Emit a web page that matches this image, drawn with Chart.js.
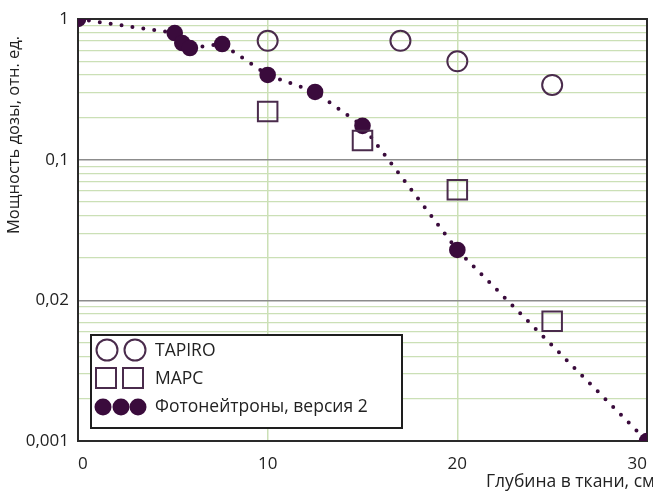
<!DOCTYPE html>
<html>
<head>
<meta charset="utf-8">
<style>
  html, body { margin: 0; padding: 0; background: #fff; }
</style>
<script src="https://cdn.jsdelivr.net/npm/chart.js@4.4.1/dist/chart.umd.min.js"></script>
</head>
<body>
<canvas id="dose-chart" width="653" height="492"></canvas>
<script>
// DATA

const tapiroX = [10, 17, 20, 25];
const tapiroY = [0.70, 0.70, 0.50, 0.34];

const marsX = [10, 15, 20, 25];
const marsY = [0.22, 0.137, 0.061, 0.0071];

const photoX = [0, 5.1, 5.5, 5.9, 7.6, 10, 12.5, 15, 20, 30];
const photoY = [1, 0.795, 0.675, 0.622, 0.664, 0.40, 0.303, 0.174, 0.0228, 0.001];

const xTicks = [0, 10, 20, 30];
const yTickValues = [0.001, 0.01, 0.1, 1];
const yTickLabels = ['0,001', '0,02', '0,1', '1'];

const seriesNames = ['TAPIRO', 'МАРС', 'Фотонейтроны, версия 2'];
const xTitle = 'Глубина в ткани, см';
const yTitle = 'Мощность дозы, отн. ед.';

const ink = '#3a0b3c';
const openInk = '#4a2b4c';
const majorGrid = '#8c8c8c';
const minorGrid = '#cbe0b6';
const textColor = '#222';
const font = '"Open Sans", sans-serif';

const toPoints = (xs, ys) => xs.map((x, i) => ({ x: x, y: ys[i] }));

const isMajor = (v) => yTickValues.some(t => Math.abs(t - v) / t < 1e-6);

// FRAME, AXIS TITLES, LEGEND

const framePlugin = {
    id: 'frame',
    beforeDatasetsDraw(chart) {
        const { ctx, chartArea: a } = chart;
        ctx.save();
        ctx.strokeStyle = '#2a2a2a';
        ctx.lineWidth = 2;
        ctx.strokeRect(a.left, a.top, a.right - a.left, a.bottom - a.top);
        ctx.restore();
    },
    afterDraw(chart) {
        const { ctx } = chart;
        ctx.save();
        ctx.fillStyle = textColor;
        ctx.textBaseline = 'middle';
        ctx.textAlign = 'left';
        ctx.font = '17.5px ' + font;
        ctx.fillText(xTitle, 486, 482);

        ctx.font = '16.5px ' + font;
        ctx.translate(14, 234);
        ctx.rotate(-Math.PI / 2);
        ctx.fillText(yTitle, 0, 0);
        ctx.restore();

        // legend box
        ctx.save();
        ctx.fillStyle = '#fff';
        ctx.fillRect(91, 335, 311, 93);
        ctx.strokeStyle = '#1e1e1e';
        ctx.lineWidth = 2;
        ctx.strokeRect(91, 335, 311, 93);

        ctx.strokeStyle = openInk;
        ctx.lineWidth = 2;
        [107, 135].forEach(cx => {
            ctx.beginPath();
            ctx.arc(cx, 350, 10.5, 0, Math.PI * 2);
            ctx.stroke();
        });
        [106, 133].forEach(cx => {
            ctx.strokeRect(cx - 10, 368, 20, 20);
        });
        ctx.fillStyle = ink;
        [103, 121, 138].forEach(cx => {
            ctx.beginPath();
            ctx.arc(cx, 407, 8.5, 0, Math.PI * 2);
            ctx.fill();
        });

        ctx.fillStyle = textColor;
        ctx.font = '17.5px ' + font;
        ctx.textBaseline = 'middle';
        ctx.fillText(seriesNames[0], 155, 351);
        ctx.fillText(seriesNames[1], 155, 379);
        ctx.fillText(seriesNames[2], 155, 407);
        ctx.restore();
    }
};

// CHART

const doseData = {
    datasets: [{
        label: seriesNames[0],
        data: toPoints(tapiroX, tapiroY),
        pointStyle: 'circle',
        pointRadius: 10,
        pointBorderWidth: 2,
        pointBorderColor: openInk,
        pointBackgroundColor: 'rgba(0,0,0,0)',
        showLine: false
    }, {
        label: seriesNames[1],
        data: toPoints(marsX, marsY),
        pointStyle: 'rect',
        pointRadius: 13.8,
        pointBorderWidth: 2,
        pointBorderColor: openInk,
        pointBackgroundColor: 'rgba(0,0,0,0)',
        showLine: false
    }, {
        label: seriesNames[2],
        data: toPoints(photoX, photoY),
        pointStyle: 'circle',
        pointRadius: 8.3,
        pointBorderWidth: 0,
        pointBackgroundColor: ink,
        showLine: true,
        borderColor: ink,
        borderWidth: 4,
        borderDash: [0, 11],
        borderCapStyle: 'round',
        clip: 0
    }]
};

const doseOptions = {
    responsive: false,
    animation: false,
    layout: {
        autoPadding: false,
        padding: { top: 19, right: 6, left: 0, bottom: 0 }
    },
    scales: {
        x: {
            type: 'linear',
            min: 0,
            max: 30,
            afterBuildTicks: (axis) => {
                axis.ticks = xTicks.map(v => ({ value: v }));
            },
            afterFit: (axis) => {
                axis.height = 51;
                axis.paddingLeft = 0;
                axis.paddingRight = 0;
            },
            border: { display: false },
            grid: {
                drawTicks: false,
                lineWidth: 1.5,
                color: (c) => (c.tick && c.tick.value > 0 && c.tick.value < 30) ? minorGrid : 'rgba(0,0,0,0)'
            },
            ticks: {
                align: 'inner',
                padding: 13,
                color: textColor,
                font: { family: font, size: 17 }
            }
        },
        y: {
            type: 'logarithmic',
            min: 0.001,
            max: 1,
            afterBuildTicks: (axis) => {
                const ticks = [];
                yTickValues.forEach((t, i) => {
                    ticks.push({ value: t });
                    if (i < yTickValues.length - 1) {
                        for (let m = 2; m <= 9; m++) ticks.push({ value: t * m });
                    }
                });
                axis.ticks = ticks;
            },
            afterFit: (axis) => {
                axis.width = 78;
                axis.paddingTop = 0;
                axis.paddingBottom = 0;
            },
            border: { display: false },
            grid: {
                drawTicks: false,
                lineWidth: (c) => (c.tick && isMajor(c.tick.value)) ? 1.5 : 1.2,
                color: (c) => (c.tick && isMajor(c.tick.value)) ? majorGrid : minorGrid
            },
            ticks: {
                autoSkip: false,
                padding: 9,
                color: textColor,
                font: { family: font, size: 17 },
                callback: (value) => {
                    const i = yTickValues.findIndex(t => Math.abs(t - value) / t < 1e-6);
                    return i >= 0 ? yTickLabels[i] : '';
                }
            }
        }
    },
    plugins: {
        legend: { display: false },
        tooltip: { enabled: false }
    }
};

new Chart(document.getElementById('dose-chart'), {
    type: 'scatter',
    data: doseData,
    options: doseOptions,
    plugins: [framePlugin]
});
</script>
</body>
</html>
